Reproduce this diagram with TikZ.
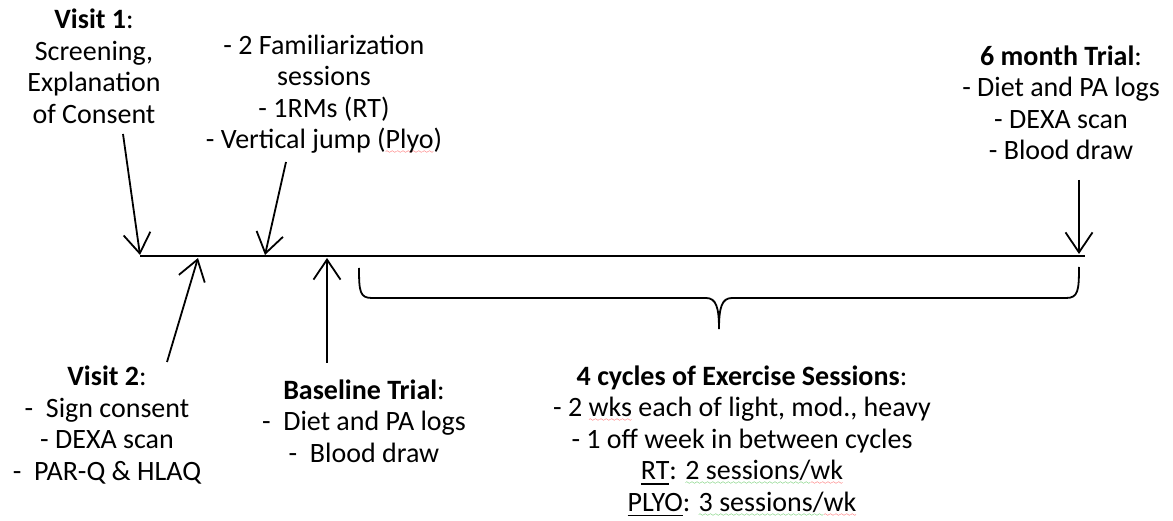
\documentclass[tikz,border=0pt]{standalone}
\usepackage{fontspec}
\setmainfont{Carlito}
\usepackage{tikz}
\usetikzlibrary{arrows.meta,positioning}
\font\sqf=lasy6
\newcommand{\wavy}[2]{\setbox0\hbox{#2}\rlap{\textcolor{#1}{\lower5pt\hbox to\wd0{\xleaders\hbox{\sqf\char58}\hfil}}}\box0\relax}
\newcommand{\ulin}[1]{\setbox0\hbox{#1}\rlap{\rule[-5pt]{\wd0}{1.3pt}}\box0\relax}
\tikzset{
  txt/.style={align=center, inner sep=0pt, anchor=base,
              font={\fontsize{28}{31.5}\selectfont}},
  ar/.style={-{Straight Barb[length=20pt,width=27pt]}, line width=1.8pt},
  tl/.style={line width=1.8pt},
  brc/.style={line width=1.8pt},
}

\begin{document}
\begin{tikzpicture}[x=1pt,y=-1pt]
  \useasboundingbox (0,0) rectangle (1173,521);

  % timeline
  \coordinate (t0) at (140,256);
  \coordinate (t1) at (1085,256);
  \draw[tl] (t0) -- (t1);

  % text blocks, placed by the baseline of their last line
  \node[txt] (v1) at (94,123.5) {\textbf{Visit 1}:\\Screening,\\Explanation\\of Consent};
  \node[txt] (fam) at (324,149) {- 2 Familiarization\\sessions\\- 1RMs (RT)\\- Vertical jump (\wavy{red}{Plyo})};
  \node[txt] (six) at (1061,160) {\textbf{6 month Trial}:\\- Diet and PA logs\\- DEXA scan\\- Blood draw};
  \node[txt] (v2) at (107,480) {\textbf{Visit 2}:\\-\ \ Sign consent\\- DEXA scan\\-\ \ PAR-Q \& HLAQ};
  \node[txt] (base) at (364,462) {\textbf{Baseline Trial}:\\-\ \ Diet and PA logs\\-\ \ Blood draw};
  \node[txt] (ex) at (742,511) {\textbf{4 cycles of Exercise Sessions}:\\- 2 \wavy{red}{wks} each of light, mod., heavy\\- 1 off week in between cycles\\\ulin{RT}: \wavy{green!65!black}{2 sessions/}\wavy{red}{wk}\\\ulin{PLYO}: \wavy{green!65!black}{3 sessions/}\wavy{red}{wk}};

  % arrow ends
  \coordinate (v1a) at (123,134);  \coordinate (v1b) at (140,255);
  \coordinate (fama) at (286,162); \coordinate (famb) at (265,255);
  \coordinate (v2a) at (167,362);  \coordinate (v2b) at (198,258);
  \coordinate (basea) at (327,363); \coordinate (baseb) at (327,258);
  \coordinate (sixa) at (1079,180); \coordinate (sixb) at (1079,254);

  \draw[ar] (v1a) -- (v1b);
  \draw[ar] (fama) -- (famb);
  \draw[ar] (v2a) -- (v2b);
  \draw[ar] (basea) -- (baseb);
  \draw[ar] (sixa) -- (sixb);

  % brace under the exercise period
  \coordinate (bl) at (359,268);
  \coordinate (br) at (1079,267);
  \coordinate (bm) at (719,329);
  \draw[brc] (bl) .. controls +(0,24) and +(-12,0) .. (372,298) -- (706,298)
    .. controls +(10,0) and +(0,-22) .. (bm)
    .. controls +(0,-22) and +(-10,0) .. (732,298) -- (1066,298)
    .. controls +(12,0) and +(0,24) .. (br);
\end{tikzpicture}
\end{document}
